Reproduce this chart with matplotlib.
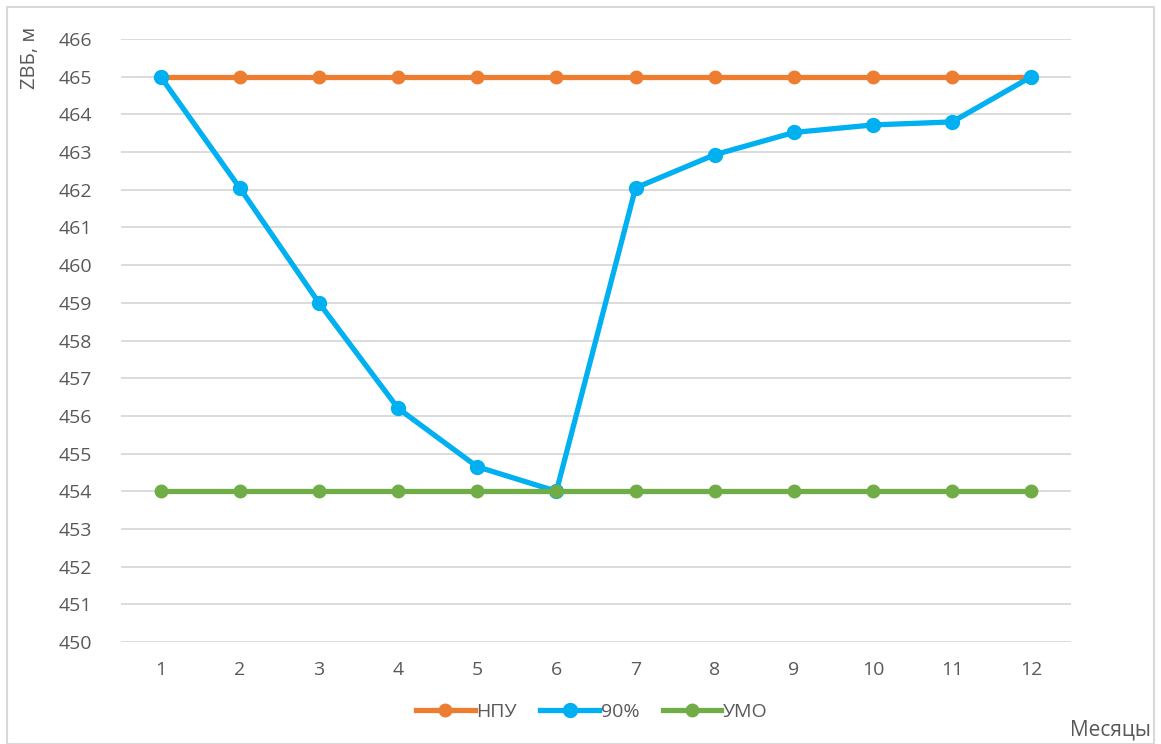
import matplotlib.pyplot as plt
from matplotlib.patches import Rectangle

months = [1, 2, 3, 4, 5, 6, 7, 8, 9, 10, 11, 12]
npu = [465] * 12
p90 = [465.0, 462.05, 459.0, 456.2, 454.65, 454.0, 462.05, 462.93, 463.52, 463.72, 463.8, 465.0]
umo = [454] * 12

C_NPU = '#ED7D31'
C_90 = '#00B0F0'
C_UMO = '#70AD47'
TXT = '#595959'

plt.rcParams['font.family'] = ['Open Sans', 'DejaVu Sans']

fig = plt.figure(figsize=(11.61, 7.44), dpi=100)
ax = fig.add_axes([121 / 1161, 1 - 642 / 744, (1071 - 121) / 1161, (642 - 39) / 744])

# series drawn in order, later ones on top
ax.plot(months, npu, color=C_NPU, lw=3.8, marker='o', ms=9, label='НПУ', zorder=3)
ax.plot(months, p90, color=C_90, lw=3.8, marker='o', ms=10, label='90%', zorder=4)
ax.plot(months, umo, color=C_UMO, lw=3.8, marker='o', ms=9, label='УМО', zorder=5)

ax.set_xlim(0.5, 12.5)
ax.set_ylim(450, 466)
ax.set_xticks(months)
ax.set_yticks(range(450, 467))
ax.grid(axis='y', color='#D9D9D9', lw=1.3)
ax.set_axisbelow(True)
for s in ax.spines.values():
    s.set_visible(False)
ax.tick_params(length=0, labelsize=14, colors=TXT, pad=14)
ax.tick_params(axis='y', pad=21)

fig.text(30 / 1161, 1 - 58 / 744, 'ZВБ, м', rotation=90, ha='center', va='center',
         fontsize=14.5, color=TXT)
fig.text(1110 / 1161, 1 - 730 / 744, 'Месяцы', ha='center', va='center',
         fontsize=15, color=TXT)

leg = fig.legend(loc='center', bbox_to_anchor=(592 / 1161, 1 - 712 / 744), ncol=3,
                 frameon=False, fontsize=14, handlelength=3.0, handletextpad=0.1,
                 columnspacing=1.2)
for t in leg.get_texts():
    t.set_color(TXT)

fig.patches.append(Rectangle((7 / 1161, 0), 1 - 14 / 1161, 1 - 7 / 744,
                             transform=fig.transFigure, fill=False,
                             edgecolor='#D9D9D9', lw=1.5))

fig.savefig('out.png', dpi=100)
